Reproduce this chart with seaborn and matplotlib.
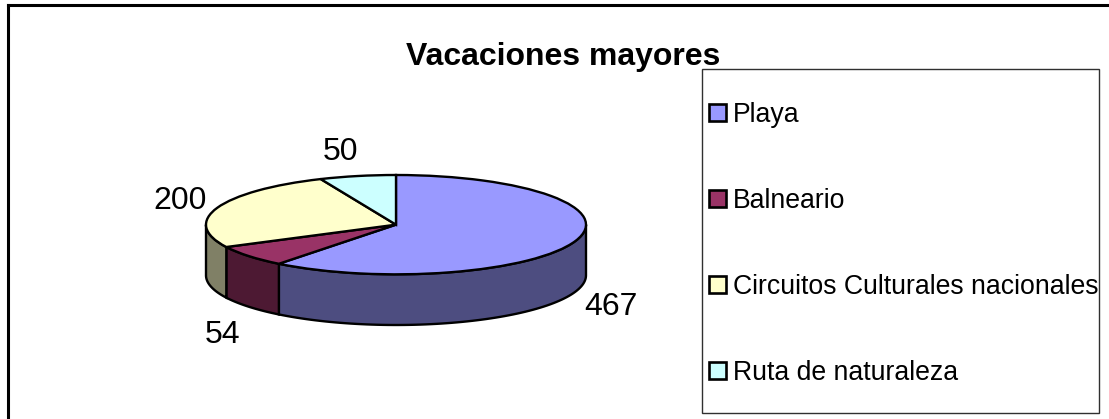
import numpy as np
import matplotlib
matplotlib.use('Agg')
import matplotlib.pyplot as plt
from matplotlib.lines import Line2D
from matplotlib.patches import Rectangle
import seaborn as sns

categories = ['Playa', 'Balneario', 'Circuitos Culturales nacionales', 'Ruta de naturaleza']
values = [467, 54, 200, 50]
top_colors = ['#9999FF', '#993366', '#FFFFCC', '#CCFFFF']
side_colors = ['#4D4D80', '#4D1933', '#808066', '#668080']

W, H = 1109, 419
FONT = 'Liberation Sans'

sns.set_theme(style='white')
plt.rcParams['font.family'] = [FONT, 'DejaVu Sans']


def fx(px):
    return px / W


def fy(py):
    return 1 - py / H


fig = plt.figure(figsize=(W / 100, H / 100), dpi=100, facecolor='white')

# pie sits in pixels 206-586 across, 175-325 down (top ellipse plus the rim)
ry_px = 49.5
depth = 50.5 / ry_px
ax = fig.add_axes([fx(206), fy(325), 380 / W, 150 / H])

wedges, _ = ax.pie(values, colors=top_colors, startangle=90, counterclock=False,
                   wedgeprops={'edgecolor': 'black', 'linewidth': 1.7, 'zorder': 3})
ax.set_aspect('auto')
ax.set_xlim(-1, 1)
ax.set_ylim(-1 - depth, 1)
ax.axis('off')

# rim of the disc, only the front half shows
total = sum(values)
cum = 0
for val, col in zip(values, side_colors):
    start = 90 - cum / total * 360
    end = 90 - (cum + val) / total * 360
    cum += val
    # front half in this clockwise sweep runs from -180 to 0 degrees
    hi = min(start, 0)
    lo = max(end, -180)
    if hi <= lo:
        continue
    t = np.radians(np.linspace(hi, lo, 80))
    xs = np.concatenate([np.cos(t), np.cos(t[::-1])])
    ys = np.concatenate([np.sin(t), np.sin(t[::-1]) - depth])
    ax.fill(xs, ys, facecolor=col, edgecolor='black', linewidth=1.7, zorder=2, clip_on=False)

# value labels
label_px = [(611, 307), (223, 335), (180, 201), (341, 152)]
for val, (x, y) in zip(values, label_px):
    fig.text(fx(x), fy(y), str(val), fontsize=23, color='black', ha='center', va='center')

fig.text(fx(563.5), fy(57), 'Vacaciones mayores', fontsize=23, fontweight='bold',
         color='black', ha='center', va='center')

# legend box
fig.add_artist(Rectangle((fx(702), fy(413)), 397 / W, 344 / H, transform=fig.transFigure,
                         facecolor='white', edgecolor='#303030', linewidth=1.0, zorder=4))
handles = [Rectangle((0, 0), 1, 1, facecolor=c, edgecolor='black', linewidth=1.9) for c in top_colors]
leg = fig.legend(handles, categories, loc='upper left', bbox_to_anchor=(fx(709), fy(102)),
                 frameon=False, fontsize=19.2, labelcolor='black', borderpad=0, borderaxespad=0,
                 handlelength=0.62, handleheight=0.62, handletextpad=0.27, labelspacing=2.25)
leg.set_zorder(5)

# outer frame has only left and top edges in view
fig.add_artist(Line2D([fx(8), fx(8)], [0, fy(5)], color='black', linewidth=2.2, solid_capstyle='projecting'))
fig.add_artist(Line2D([fx(8), 1], [fy(5), fy(5)], color='black', linewidth=2.2, solid_capstyle='projecting'))

fig.savefig('out.png', dpi=100)
plt.close(fig)
